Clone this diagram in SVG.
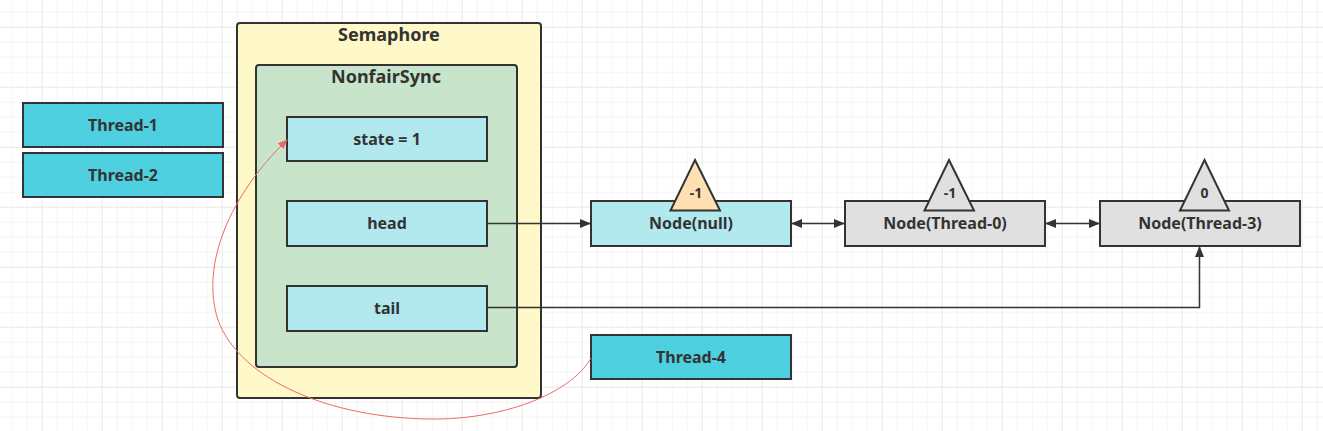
<svg xmlns="http://www.w3.org/2000/svg" width="1323" height="431" viewBox="0 0 1323 431">
<defs>
<pattern id="minor" width="15" height="15" patternUnits="userSpaceOnUse" x="11.7" y="11.7">
<path d="M0 0H15M0 0V15" fill="none" stroke="#ececec" stroke-width="1"/>
</pattern>
<pattern id="major" width="60" height="60" patternUnits="userSpaceOnUse" x="41.7" y="26.7">
<path d="M0 0H60M0 0V60" fill="none" stroke="#e0e0e0" stroke-width="1"/>
</pattern>
<marker id="arr" markerWidth="11" markerHeight="9" refX="10" refY="4.5" orient="auto" markerUnits="userSpaceOnUse">
<path d="M0,0 L11,4.5 L0,9 Z" fill="#333"/>
</marker>
<marker id="arrs" markerWidth="11" markerHeight="9" refX="1" refY="4.5" orient="auto" markerUnits="userSpaceOnUse">
<path d="M11,0 L0,4.5 L11,9 Z" fill="#333"/>
</marker>
<marker id="arrRed" markerWidth="10" markerHeight="8" refX="9" refY="4" orient="auto" markerUnits="userSpaceOnUse">
<path d="M0,0 L10,4 L0,8 Z" fill="#ea6b66"/>
</marker>
</defs>
<style>
text{font-family:"Noto Sans","Open Sans","Liberation Sans",sans-serif;font-weight:bold;fill:#333;text-anchor:middle}
.box{stroke:#333;stroke-width:2}
.thread{fill:#4fd0e0}
.field{fill:#b1e9ef}
.gray{fill:#e0e0e0}
.lbl{font-size:16px}
.title{font-size:18px}
.tri{font-size:14px}
.conn{fill:none;stroke:#333;stroke-width:1.5}
</style>
<rect width="1323" height="431" fill="#fff"/>
<rect width="1323" height="431" fill="url(#minor)"/>
<rect width="1323" height="431" fill="url(#major)"/>

<g id="thread1"><rect class="box thread" x="23" y="103" width="200" height="44"/><text class="lbl" x="123" y="131">Thread-1</text></g>
<g id="thread2"><rect class="box thread" x="23" y="153" width="200" height="44"/><text class="lbl" x="123" y="181">Thread-2</text></g>

<g id="semaphore"><rect class="box" x="237" y="23" width="304" height="375" rx="3" fill="#fff8c8"/><text class="title" x="389" y="41">Semaphore</text></g>
<g id="nonfairsync"><rect class="box" x="256" y="65" width="261" height="302" rx="3" fill="#c8e5cc"/><text class="title" x="386" y="83">NonfairSync</text></g>
<g id="state"><rect class="box field" x="287" y="117" width="200" height="44"/><text class="lbl" x="387" y="145">state = 1</text></g>
<g id="head"><rect class="box field" x="287" y="201" width="200" height="45"/><text class="lbl" x="387" y="229">head</text></g>
<g id="tail"><rect class="box field" x="287" y="286" width="200" height="45"/><text class="lbl" x="387" y="314">tail</text></g>

<g id="node-null"><rect class="box field" x="591" y="201" width="200" height="45"/><text class="lbl" x="691" y="229">Node(null)</text>
<polygon class="box" points="695,160 720,210.5 670.5,210.5" fill="#ffe0b2"/><text class="tri" x="696" y="198">-1</text></g>
<g id="node-thread0"><rect class="box gray" x="845" y="201" width="200" height="45"/><text class="lbl" x="945" y="229">Node(Thread-0)</text>
<polygon class="box gray" points="949,160 974,210.5 924.5,210.5"/><text class="tri" x="950" y="198">-1</text></g>
<g id="node-thread3"><rect class="box gray" x="1100" y="201" width="200" height="45"/><text class="lbl" x="1200" y="229">Node(Thread-3)</text>
<polygon class="box gray" points="1204.5,160 1229,210.5 1180,210.5"/><text class="tri" x="1204.5" y="198">0</text></g>

<g id="thread4"><rect class="box thread" x="591" y="335" width="200" height="44"/><text class="lbl" x="691" y="363">Thread-4</text></g>

<g id="connectors">
<path class="conn" d="M487,223.5 H590" marker-end="url(#arr)"/>
<path class="conn" d="M792,223.5 H844" marker-start="url(#arrs)" marker-end="url(#arr)"/>
<path class="conn" d="M1046,223.5 H1099" marker-start="url(#arrs)" marker-end="url(#arr)"/>
<path class="conn" d="M487,307.5 H1199.5 V247" marker-end="url(#arr)"/>
<path d="M591,358 C570,395 500,420 430,419 C330,418 240,380 218,320 C200,265 230,195 287,140" fill="none" stroke="#ea6b66" stroke-width="1" marker-end="url(#arrRed)"/>
</g>
</svg>
